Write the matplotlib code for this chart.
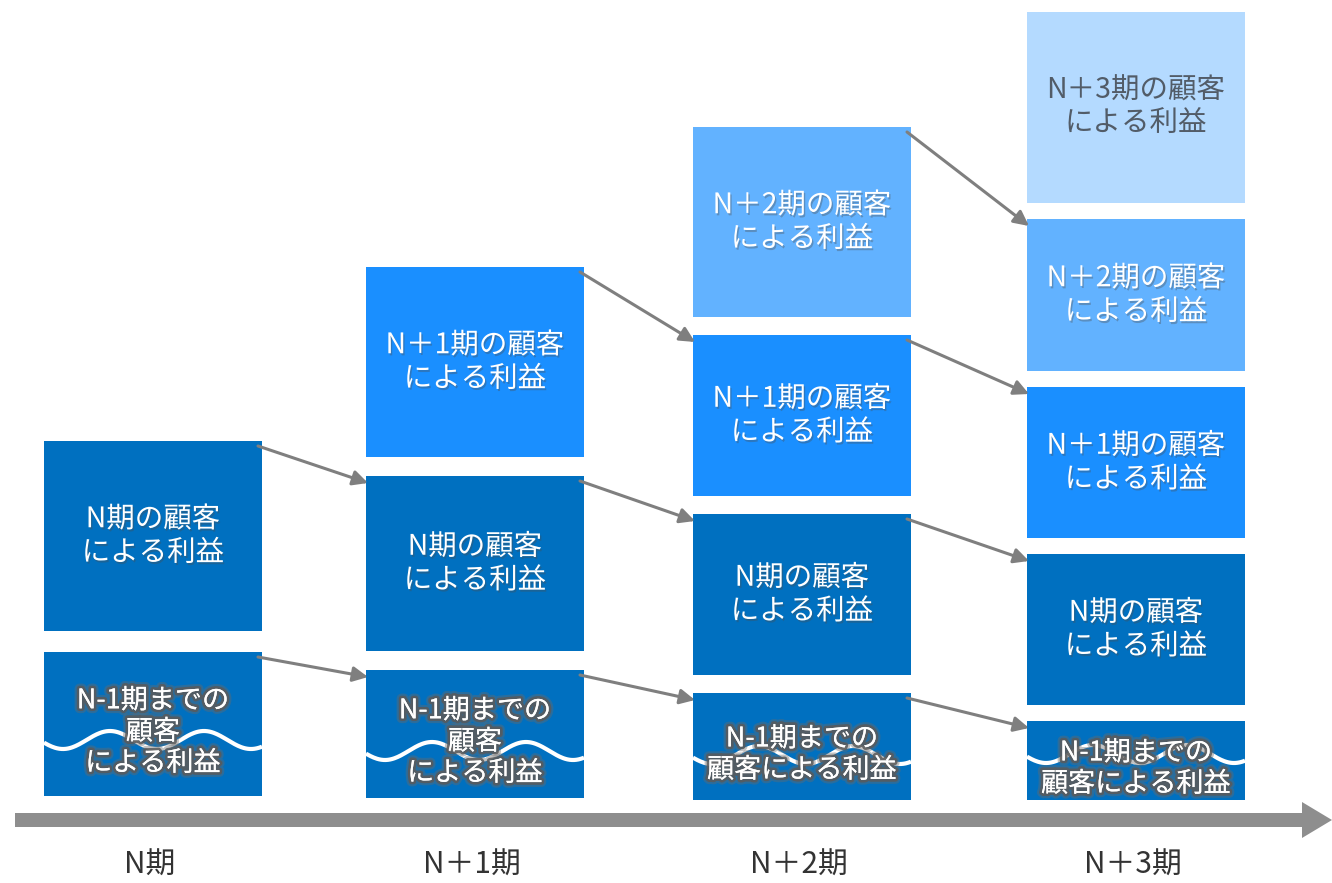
import numpy as np
import matplotlib
matplotlib.use('Agg')
import matplotlib.pyplot as plt
import matplotlib.patheffects as pe
from matplotlib.patches import FancyArrow

plt.rcParams['font.family'] = ['Noto Sans CJK JP', 'DejaVu Sans']

# periods along the time axis
periods = ['N期', 'N＋1期', 'N＋2期', 'N＋3期']

# block heights per period, bottom to top (pixel units of the slide)
h_prev = [144, 128, 107, 79]      # N-1期までの顧客
h_n    = [190, 175, 161, 151]     # N期の顧客
h_n1   = [None, 190, 161, 151]    # N+1期の顧客
h_n2   = [None, None, 190, 152]   # N+2期の顧客
h_n3   = [None, None, None, 191]  # N+3期の顧客
gaps   = [21, 19, 18, 16]
bases  = [796, 798, 800, 800]

labels_prev = ['N-1期までの\n顧客\nによる利益', 'N-1期までの\n顧客\nによる利益',
               'N-1期までの\n顧客による利益', 'N-1期までの\n顧客による利益']
labels = ['N期の顧客\nによる利益', 'N＋1期の顧客\nによる利益',
          'N＋2期の顧客\nによる利益', 'N＋3期の顧客\nによる利益']
colors = ['#0070c0', '#1a8fff', '#62b2ff', '#b4daff']

xc = [153, 475, 802, 1136]
w = 218

fig = plt.figure(figsize=(13.32, 8.83), dpi=100)
ax = fig.add_axes([0, 0, 1, 1])
ax.set_xlim(0, 1332)
ax.set_ylim(883, 0)
ax.axis('off')

shadow = [pe.SimplePatchShadow(offset=(1, -1.5), alpha=0.35), pe.Normal()]
glow = [pe.withStroke(linewidth=7, foreground='#6a6a6a', alpha=0.4),
        pe.withStroke(linewidth=4, foreground='#5a5a5a', alpha=0.85), pe.Normal()]

tops = {}  # (col, level) -> top y
for i in range(4):
    stack = [h_prev[i], h_n[i], h_n1[i], h_n2[i], h_n3[i]]
    y = bases[i]
    for lvl, h in enumerate(stack):
        if h is None:
            break
        top = y - h
        tops[(i, lvl)] = top
        col = colors[0] if lvl <= 1 else colors[lvl - 1]
        ax.bar(xc[i], h, width=w, bottom=top, color=col, zorder=2)
        cy = top + h / 2
        if lvl == 0:
            # white wave across the block
            xs = np.linspace(xc[i] - w / 2, xc[i] + w / 2, 200)
            wc = [740, 751, 755, 754][i]
            ys = wc - 9 * np.cos(2 * np.pi * (xs - (xc[i] - w / 2) - 66) / 94)
            ax.plot(xs, ys, color='white', lw=3, zorder=3, solid_capstyle='butt')
            ax.text(xc[i], cy + 8, labels_prev[i], ha='center', va='center',
                    fontsize=19.5, color='white', linespacing=1.2, zorder=5,
                    path_effects=glow)
        else:
            tc = '#525c68' if lvl == 4 else 'white'
            ax.text(xc[i], cy, labels[lvl - 1], ha='center', va='center',
                    fontsize=20.5, color=tc, linespacing=1.15, zorder=5,
                    path_effects=shadow if lvl < 4 else None)
        y = top - gaps[i]

# arrows from each block to the same customer group in the next period
for i in range(3):
    for lvl in range(5):
        if (i, lvl) in tops and (i + 1, lvl) in tops:
            x0 = xc[i] + w / 2 - 4
            y0 = tops[(i, lvl)] + 5
            x1 = xc[i + 1] - w / 2 + 2
            y1 = tops[(i + 1, lvl)] + 7
            ax.annotate('', xy=(x1, y1), xytext=(x0, y0),
                        arrowprops=dict(arrowstyle='-|>,head_length=0.9,head_width=0.45',
                                        color='#7f7f7f', lw=2.2, shrinkA=0, shrinkB=0),
                        zorder=6)

# time axis
ax.add_patch(FancyArrow(15, 820, 1317, 0, width=14, head_width=36, head_length=30,
                        length_includes_head=True, color='#8e8e8e', lw=0, zorder=1))
for i, p in enumerate(periods):
    ax.text(xc[i] - 3, 865, p, ha='center', va='center', fontsize=21.5, color='#333333')

fig.savefig('out.png', dpi=100)
